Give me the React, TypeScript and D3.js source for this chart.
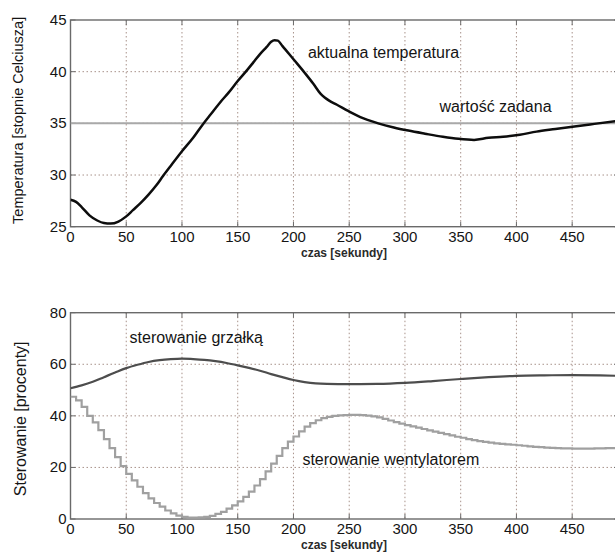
import React, { useEffect, useRef } from "react";
import * as d3 from "d3";

// top chart: measured temperature
const tempTime = [0, 5, 10, 17, 24, 30, 36, 43, 50, 56, 63, 70, 77, 83, 90, 100, 110, 118, 126, 134, 142, 150, 158, 164, 170, 176, 180, 183, 186, 190, 200, 210, 218, 224, 228, 232, 239, 249, 260, 276, 290, 303, 318, 334, 348, 362, 375, 388, 403, 418, 435, 452, 470, 492];
const tempValues = [27.6, 27.4, 26.9, 26.1, 25.6, 25.35, 25.3, 25.5, 26.0, 26.6, 27.3, 28.1, 29.0, 29.9, 30.9, 32.3, 33.6, 34.8, 35.9, 37.0, 38.0, 39.1, 40.1, 40.9, 41.7, 42.4, 42.9, 43.05, 43.0, 42.5, 41.2, 39.9, 38.8, 37.9, 37.5, 37.2, 36.8, 36.2, 35.6, 35.0, 34.6, 34.3, 34.0, 33.7, 33.5, 33.4, 33.6, 33.7, 33.9, 34.2, 34.45, 34.7, 34.95, 35.25];
const setpoint = 35;

// bottom chart: heater control
const heaterTime = [0, 10, 20, 30, 40, 50, 60, 70, 80, 90, 100, 110, 120, 130, 140, 150, 160, 170, 180, 190, 200, 210, 220, 230, 250, 275, 300, 325, 350, 375, 400, 425, 450, 475, 492];
const heaterValues = [50.7, 51.8, 53.2, 55.0, 56.8, 58.5, 59.8, 60.9, 61.6, 62.0, 62.2, 62.0, 61.7, 61.2, 60.5, 59.6, 58.6, 57.5, 56.2, 55.0, 53.9, 53.1, 52.6, 52.4, 52.3, 52.4, 52.8, 53.5, 54.3, 55.0, 55.5, 55.7, 55.8, 55.7, 55.5];

// bottom chart: fan control, sampled every 5 s (stepped)
const fanStep = 5;
const fanValues = [
  47.4, 46, 43.5, 40, 37.5, 34.5, 31, 27.5, 24, 20.5,
  17.5, 15, 12.5, 10, 8, 6.2, 4.8, 3.3, 2.2, 1.3,
  0.8, 0.5, 0.5, 0.6, 0.8, 1.2, 2, 2.8, 4, 5.3,
  6.8, 8.6, 10.6, 13, 15.5, 18.5, 21.5, 24.5, 27.5, 30,
  32, 34, 35.8, 37.2, 38.3, 39.1, 39.6, 40, 40.2, 40.3,
  40.4, 40.4, 40.3, 40.1, 39.8, 39.4, 38.8, 38.2, 37.6, 37.0,
  36.4, 35.9, 35.4, 34.9, 34.4, 33.9, 33.4, 32.9, 32.4, 31.9,
  31.5, 31.0, 30.6, 30.2, 29.9, 29.6, 29.3, 29.1, 28.9, 28.8,
  28.6, 28.4, 28.2, 28.0, 27.9, 27.7, 27.6, 27.5, 27.4, 27.4,
  27.3, 27.3, 27.3, 27.3, 27.4, 27.4, 27.5, 27.5, 27.6, 27.6
];

const xTicks = [0, 50, 100, 150, 200, 250, 300, 350, 400, 450];
const tempTicks = [25, 30, 35, 40, 45];
const ctrlTicks = [0, 20, 40, 60, 80];

const FONT = "'Liberation Sans', Arial, sans-serif";
const INK = "#151515";
const GRID = "#a8928a";
const AXIS = "#6a6a6a";

function App() {
  const chart = useRef<SVGSVGElement>(null);

  useEffect(() => {
    const svg = d3.select(chart.current);
    const root = svg.append("g");

    const left = 70.5;
    const right = 619;
    const x = d3.scaleLinear().domain([0, 492]).range([left, right]);

    const drawFrame = (g, y, yTicks, top, bottom, id) => {
      // dotted grid
      g.selectAll(".vgrid").data(xTicks.slice(1)).enter().append("line")
        .attr("x1", d => x(d)).attr("x2", d => x(d))
        .attr("y1", top).attr("y2", bottom)
        .attr("stroke", GRID).attr("stroke-width", 1)
        .attr("stroke-dasharray", "1.5,2.5");
      g.selectAll(".hgrid").data(yTicks.slice(1, -1)).enter().append("line")
        .attr("x1", left).attr("x2", right)
        .attr("y1", d => y(d)).attr("y2", d => y(d))
        .attr("stroke", GRID).attr("stroke-width", 1)
        .attr("stroke-dasharray", "1.5,2.5");

      // box
      g.append("rect")
        .attr("x", left).attr("y", top)
        .attr("width", right - left).attr("height", bottom - top)
        .attr("fill", "none").attr("stroke", AXIS).attr("stroke-width", 1.4);

      // inward ticks on all sides
      xTicks.forEach(d => {
        g.append("line").attr("x1", x(d)).attr("x2", x(d)).attr("y1", bottom).attr("y2", bottom - 5)
          .attr("stroke", AXIS);
        g.append("line").attr("x1", x(d)).attr("x2", x(d)).attr("y1", top).attr("y2", top + 5)
          .attr("stroke", AXIS);
      });
      yTicks.forEach(d => {
        g.append("line").attr("x1", left).attr("x2", left + 5).attr("y1", y(d)).attr("y2", y(d))
          .attr("stroke", AXIS);
        g.append("line").attr("x1", right).attr("x2", right - 5).attr("y1", y(d)).attr("y2", y(d))
          .attr("stroke", AXIS);
      });

      // tick labels
      g.selectAll(".xlab").data(xTicks).enter().append("text")
        .attr("x", d => x(d)).attr("y", bottom + 15)
        .attr("text-anchor", "middle")
        .attr("font-family", FONT).attr("font-size", 15).attr("fill", INK)
        .text(d => d);
      g.selectAll(".ylab").data(yTicks).enter().append("text")
        .attr("x", left - 4).attr("y", d => y(d) + 5)
        .attr("text-anchor", "end")
        .attr("font-family", FONT).attr("font-size", 15).attr("fill", INK)
        .text(d => d);

      g.append("text")
        .attr("x", 344).attr("y", bottom + 30)
        .attr("text-anchor", "middle")
        .attr("font-family", FONT).attr("font-size", 12).attr("font-weight", "bold")
        .attr("fill", "#2a2a2a")
        .text("czas [sekundy]");

      g.append("clipPath").attr("id", id)
        .append("rect").attr("x", left).attr("y", top)
        .attr("width", right - left).attr("height", bottom - top);
    };

    // --- top chart ---
    const top1 = 20;
    const bottom1 = 226.7;
    const yT = d3.scaleLinear().domain([25, 45]).range([bottom1, top1]);
    const g1 = root.append("g");
    drawFrame(g1, yT, tempTicks, top1, bottom1, "clip-top");

    const plot1 = g1.append("g").attr("clip-path", "url(#clip-top)");
    plot1.append("line")
      .attr("x1", left).attr("x2", right)
      .attr("y1", yT(setpoint)).attr("y2", yT(setpoint))
      .attr("stroke", "#a9a9a9").attr("stroke-width", 2);

    const tempLine = d3.line<number>()
      .x((d, i) => x(tempTime[i]))
      .y(d => yT(d))
      .curve(d3.curveMonotoneX);
    plot1.append("path")
      .attr("d", tempLine(tempValues))
      .attr("fill", "none").attr("stroke", "#0d0d0d").attr("stroke-width", 2.5);

    g1.append("text")
      .attr("x", x(213)).attr("y", yT(41.3))
      .attr("font-family", FONT).attr("font-size", 16).attr("fill", INK)
      .text("aktualna temperatura");
    g1.append("text")
      .attr("x", x(331)).attr("y", yT(36.1))
      .attr("font-family", FONT).attr("font-size", 16).attr("fill", INK)
      .text("wartość zadana");

    g1.append("text")
      .attr("transform", `translate(23,${(top1 + bottom1) / 2 - 3}) rotate(-90)`)
      .attr("text-anchor", "middle")
      .attr("font-family", FONT).attr("font-size", 14.5).attr("fill", INK)
      .text("Temperatura [stopnie Celciusza]");

    // --- bottom chart ---
    const top2 = 312.7;
    const bottom2 = 519;
    const yC = d3.scaleLinear().domain([0, 80]).range([bottom2, top2]);
    const g2 = root.append("g");
    drawFrame(g2, yC, ctrlTicks, top2, bottom2, "clip-bottom");

    const plot2 = g2.append("g").attr("clip-path", "url(#clip-bottom)");
    const fanLine = d3.line<number>()
      .x((d, i) => x(i * fanStep))
      .y(d => yC(d))
      .curve(d3.curveStepAfter);
    plot2.append("path")
      .attr("d", fanLine(fanValues))
      .attr("fill", "none").attr("stroke", "#a0a0a0").attr("stroke-width", 2.2);

    const heaterLine = d3.line<number>()
      .x((d, i) => x(heaterTime[i]))
      .y(d => yC(d))
      .curve(d3.curveMonotoneX);
    plot2.append("path")
      .attr("d", heaterLine(heaterValues))
      .attr("fill", "none").attr("stroke", "#4d4d4d").attr("stroke-width", 2.2);

    g2.append("text")
      .attr("x", x(53)).attr("y", yC(68.2))
      .attr("font-family", FONT).attr("font-size", 16).attr("fill", INK)
      .text("sterowanie grzałką");
    g2.append("text")
      .attr("x", x(208)).attr("y", yC(21))
      .attr("font-family", FONT).attr("font-size", 16).attr("fill", INK)
      .text("sterowanie wentylatorem");

    g2.append("text")
      .attr("transform", `translate(26,${(top2 + bottom2) / 2 + 3}) rotate(-90)`)
      .attr("text-anchor", "middle")
      .attr("font-family", FONT).attr("font-size", 16).attr("fill", INK)
      .text("Sterowanie [procenty]");

    return () => {
      svg.selectAll("*").remove();
    };
  }, []);

  return (
    <svg
      ref={chart}
      width={615}
      height={554}
      style={{ position: "absolute", left: 0, top: 0, background: "#fff", display: "block" }}
    ></svg>
  );
}

export default App;
